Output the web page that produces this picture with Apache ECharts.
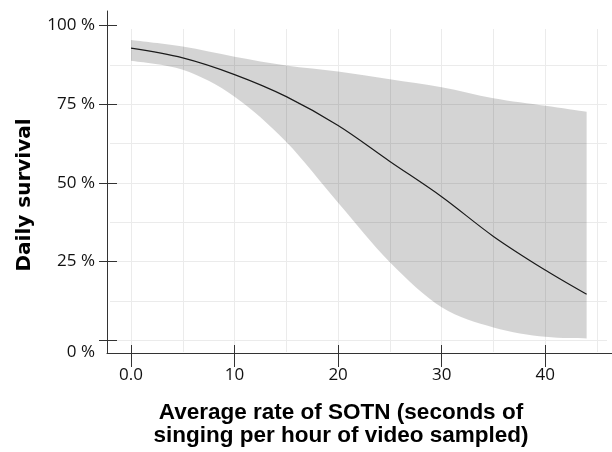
<!DOCTYPE html>
<html>
<head>
<meta charset="utf-8">
<script src="https://cdn.jsdelivr.net/npm/echarts@6/dist/echarts.min.js"></script>
<style>
  html, body { margin: 0; padding: 0; background: #fff; }
  #chart { width: 612px; height: 452px; }
</style>
</head>
<body>
<div id="chart"></div>
<script>
// rate of SOTN (x) and daily survival in %
var rates = [0, 5, 10, 15, 20, 25, 30, 35, 40, 44]
var fit = [92.8, 89.7, 84.4, 77.4, 68.2, 56.8, 45.6, 33.0, 22.3, 14.6]
var upper = [95.4, 93.3, 90.1, 87.3, 85.4, 82.9, 80.4, 76.9, 74.5, 72.6]
var lower = [88.8, 85.9, 77.4, 63.0, 43.7, 24.8, 10.5, 4.1, 1.1, 0.6]
var xTicks = [0, 10, 20, 30, 40]
var yTicks = [0, 25, 50, 75, 100]
var xGrid = [0, 5, 10, 15, 20, 25, 30, 35, 40, 45]
var yGrid = [0, 12.5, 25, 37.5, 50, 62.5, 75, 87.5]

var chart = echarts.init(document.getElementById('chart'))

var fitPts = rates.map(function (x, i) { return [x, fit[i]] })

// smooth path through pixel points (catmull-rom -> bezier)
function curveTo (pts, first) {
  var d = first ? 'M' + pts[0][0] + ',' + pts[0][1] : 'L' + pts[0][0] + ',' + pts[0][1]
  for (var i = 0; i < pts.length - 1; i++) {
    var p0 = pts[i - 1] || pts[i]
    var p1 = pts[i]
    var p2 = pts[i + 1]
    var p3 = pts[i + 2] || p2
    var c1x = p1[0] + (p2[0] - p0[0]) / 6
    var c1y = p1[1] + (p2[1] - p0[1]) / 6
    var c2x = p2[0] - (p3[0] - p1[0]) / 6
    var c2y = p2[1] - (p3[1] - p1[1]) / 6
    d += 'C' + c1x + ',' + c1y + ',' + c2x + ',' + c2y + ',' + p2[0] + ',' + p2[1]
  }
  return d
}

function renderBand (params, api) {
  if (params.dataIndex !== 0) return
  var top = rates.map(function (x, i) { return api.coord([x, upper[i]]) })
  var bottom = rates.map(function (x, i) { return api.coord([x, lower[i]]) }).reverse()
  var d = curveTo(top, true) + curveTo(bottom, false) + 'Z'
  return {
    type: 'path',
    shape: { pathData: d },
    style: { fill: 'rgba(0,0,0,0.17)', stroke: null }
  }
}

var axisColor = '#333'
var labelFont = { fontFamily: 'Open Sans', fontSize: 17, color: '#111' }

var option = {
  animation: false,
  grid: [
    { left: 107, right: 0, top: 11, bottom: 99, outerBoundsMode: 'none' },
    { left: 110, right: 5, top: 29, bottom: 100, outerBoundsMode: 'none' }
  ],
  xAxis: [
    {
      type: 'value', gridIndex: 0, min: -2.318, max: 46.45, z: 10,
      axisLine: { show: true, onZero: false, lineStyle: { color: axisColor, width: 1 } },
      axisTick: { show: true, inside: true, length: 8, customValues: xTicks, lineStyle: { color: axisColor } },
      axisLabel: Object.assign({
        customValues: xTicks, margin: 14,
        formatter: function (v) { return v === 0 ? '0.0' : String(v) }
      }, labelFont),
      splitLine: { show: false }
    },
    {
      type: 'value', gridIndex: 0, min: -2.318, max: 46.45, position: 'bottom', z: 10,
      axisLine: { show: false, onZero: false },
      axisTick: { show: true, inside: false, length: 14, customValues: xTicks, lineStyle: { color: axisColor } },
      axisLabel: { show: false },
      splitLine: { show: false }
    },
    {
      type: 'value', gridIndex: 1, min: -2.028, max: 45.96, show: false
    }
  ],
  yAxis: [
    {
      type: 'value', gridIndex: 0, min: -4.04, max: 104.6, z: 10,
      axisLine: { show: true, onZero: false, lineStyle: { color: axisColor, width: 1 } },
      axisTick: { show: true, inside: true, length: 10, customValues: yTicks, lineStyle: { color: axisColor } },
      axisLabel: Object.assign({
        customValues: yTicks, margin: 12,
        formatter: function (v) { return v === 0 ? '{z|0 %}' : v + ' %' },
        rich: { z: { fontFamily: 'Open Sans', fontSize: 17, color: '#111', padding: [24, 0, 0, 0] } }
      }, labelFont),
      splitLine: { show: false }
    },
    {
      type: 'value', gridIndex: 0, min: -4.04, max: 104.6, position: 'left', z: 10,
      axisLine: { show: false, onZero: false },
      axisTick: { show: true, inside: false, length: 8, customValues: yTicks, lineStyle: { color: axisColor } },
      axisLabel: { show: false },
      splitLine: { show: false }
    },
    {
      type: 'value', gridIndex: 1, min: -3.72, max: 98.9, show: false
    }
  ],
  series: [
    {
      // grid lines of the panel
      type: 'line', xAxisIndex: 2, yAxisIndex: 2, z: 1,
      data: [[0, 0]], symbol: 'none', lineStyle: { opacity: 0 }, silent: true,
      markLine: {
        silent: true,
        z: 1,
        symbol: ['none', 'none'],
        label: { show: false },
        emphasis: { disabled: true },
        lineStyle: { color: '#ebebeb', width: 1, type: 'solid' },
        data: xGrid.map(function (v) { return { xAxis: v } })
          .concat(yGrid.map(function (v) { return { yAxis: v } }))
      }
    },
    {
      name: 'band', type: 'custom', xAxisIndex: 0, yAxisIndex: 0, z: 2,
      data: rates.map(function (x, i) { return [x, lower[i], upper[i]] }),
      renderItem: renderBand, silent: true
    },
    {
      name: 'fit', type: 'line', xAxisIndex: 0, yAxisIndex: 0, z: 3,
      data: fitPts, symbol: 'none', smooth: 0.35,
      lineStyle: { color: '#1a1a1a', width: 1.2 }
    }
  ],
  graphic: [
    {
      type: 'text', x: 341, y: 424, z: 10,
      style: {
        text: 'Average rate of SOTN (seconds of\nsinging per hour of video sampled)',
        fontFamily: 'Liberation Sans', fontWeight: 'bold', fontSize: 22.5, lineHeight: 23,
        fill: '#000', align: 'center', verticalAlign: 'middle'
      }
    },
    {
      type: 'text', x: 25, y: 195, rotation: Math.PI / 2, z: 10,
      style: {
        text: 'Daily survival',
        fontFamily: 'DejaVu Sans', fontWeight: 'bold', fontSize: 20,
        fill: '#000', align: 'center', verticalAlign: 'middle'
      }
    }
  ]
}

chart.setOption(option)
window.addEventListener('resize', function () { chart.resize() })
</script>
</body>
</html>
